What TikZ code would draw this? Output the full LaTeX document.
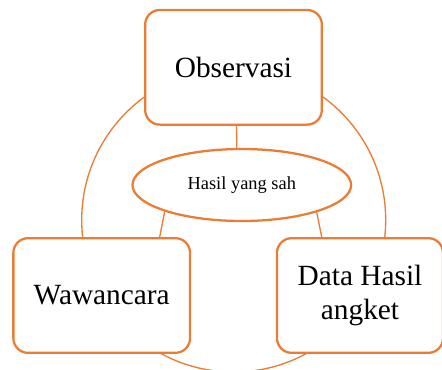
\documentclass[tikz,border=0pt]{standalone}
\usepackage{fontspec}
\setmainfont{Liberation Serif}
\usetikzlibrary{shapes.geometric}
\definecolor{orng}{RGB}{234,125,52}
\tikzset{
  box/.style={draw=orng, line width=1.7pt, rounded corners=11pt, fill=white,
    minimum height=86pt, inner sep=0pt, align=center,
    font=\fontsize{22}{25.5}\selectfont},
  conn/.style={draw=orng, line width=1pt},
}
\begin{document}
\begin{tikzpicture}[x=0.75pt,y=-0.75pt]
\useasboundingbox (0,0) rectangle (442,369);
\node[circle, draw=orng, line width=1pt, minimum size=228pt, inner sep=0pt] (ring) at (233.7,220) {};
\node[box, minimum width=132.5pt] (obs) at (233.5,67.3) {Observasi};
\node[box, minimum width=132.5pt] (waw) at (101.7,295.5) {Wawancara};
\node[box, minimum width=124.5pt] (dat) at (360,295.5) {Data Hasil\\angket};
\node[ellipse, draw=orng, line width=1.7pt, fill=white, minimum width=164pt, minimum height=54pt, inner sep=0pt,
  font=\fontsize{13.8}{16}\selectfont] (hasil) at (241.8,185) {Hasil yang sah};
\draw[conn] ([xshift=2.25pt]obs.south) -- ([xshift=-3.75pt]hasil.north);
\draw[conn] (hasil.199) -- ([xshift=43.5pt]waw.north);
\draw[conn] (hasil.340) -- ([xshift=-28.7pt]dat.north);
\end{tikzpicture}
\end{document}
